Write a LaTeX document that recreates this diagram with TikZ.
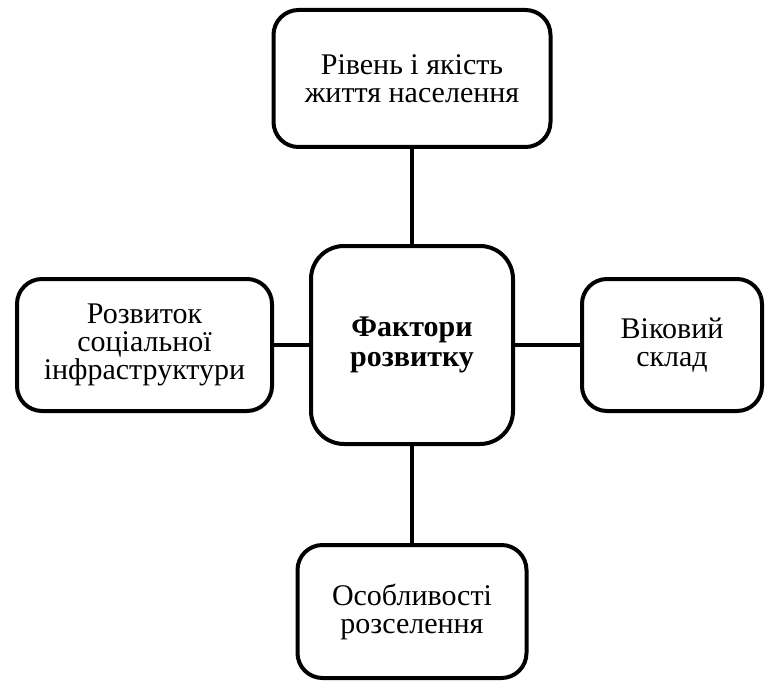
\documentclass[tikz,border=0pt]{standalone}
\usepackage{fontspec}
\setmainfont{Liberation Serif}
\usepackage{tikz}
\usetikzlibrary{positioning}

\tikzset{
  factor/.style={rectangle, draw, line width=4pt, rounded corners=25pt, align=center,
    font=\fontsize{30}{28}\selectfont, inner sep=0pt, minimum height=132pt},
  hub/.style={factor, rounded corners=33pt, font=\fontsize{30}{30}\selectfont\bfseries},
  link/.style={line width=4pt}
}

\begin{document}
\begin{tikzpicture}

\useasboundingbox (0pt,0pt) rectangle (766pt,-682pt);

\node[hub, minimum width=202pt, minimum height=198pt] (fac) at (412pt,-345pt) {Фактори\\розвитку};

\node[factor, minimum width=277pt, minimum height=137pt, above = 95pt of fac] (rivn) {Рівень і якість\\життя населення};

\node[factor, minimum width=255pt, left = 35pt of fac] (infr) {Розвиток\\соціальної\\інфраструктури};

\node[factor, minimum width=180pt, right = 65pt of fac] (vik) {Віковий\\склад};

\node[factor, minimum width=229pt, minimum height=133pt, below = 97pt of fac] (ros) {Особливості\\розселення};

\draw[link] (fac) -- (rivn);
\draw[link] (fac) -- (infr);
\draw[link] (fac) -- (vik);
\draw[link] (fac) -- (ros);

\end{tikzpicture}
\end{document}
